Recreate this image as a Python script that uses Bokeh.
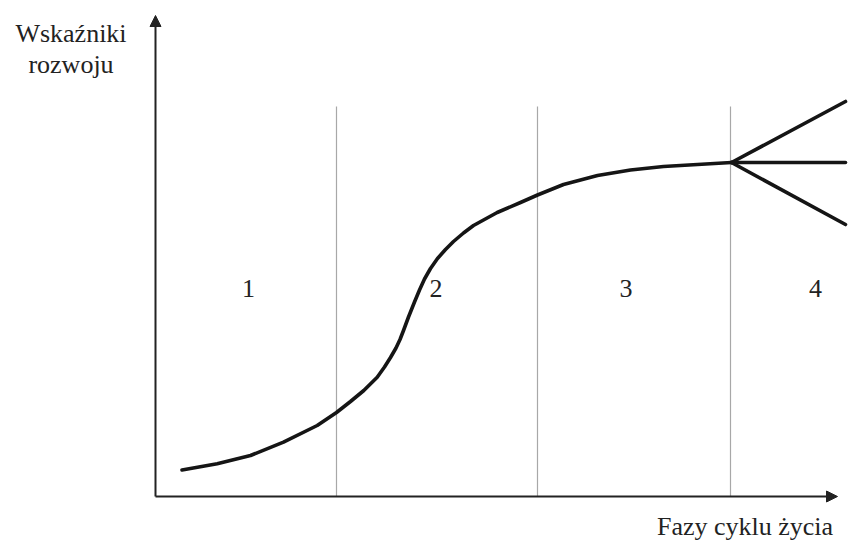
from bokeh.plotting import figure
from bokeh.models import Range1d, Arrow, NormalHead, ColumnDataSource
from bokeh.core.properties import value
from bokeh.embed import file_html
from bokeh.resources import INLINE

# ---- data ----
curve_x = [0.265, 0.617, 0.95, 1.28, 1.617, 1.81, 1.95, 2.083, 2.217, 2.29, 2.35, 2.405,
           2.445, 2.48, 2.53, 2.59, 2.64, 2.69, 2.75, 2.82, 2.90, 2.98, 3.08, 3.18,
           3.417, 3.65, 3.82, 4.08, 4.42, 4.75, 5.08, 5.42, 5.76]
curve_y = [0.265, 0.327, 0.41, 0.543, 0.71, 0.84, 0.95, 1.06, 1.193, 1.295, 1.39, 1.485,
           1.57, 1.66, 1.795, 1.945, 2.065, 2.175, 2.28, 2.38, 2.47, 2.55, 2.635, 2.71,
           2.84, 2.94, 3.015, 3.12, 3.21, 3.265, 3.30, 3.32, 3.34]

branch_start = (5.76, 3.34)
branch_end_x = [6.90, 6.90, 6.90]
branch_end_y = [3.95, 3.34, 2.72]

phase_bounds = [1.81, 3.82, 5.75]
phase_top = 3.90
phase_labels = ["1", "2", "3", "4"]
phase_label_x = [0.93, 2.805, 4.705, 6.60]
phase_label_y = 2.085

x_axis_end = 6.82
y_axis_end = 4.81
y_title = ["Wskaźniki", "rozwoju"]
x_title = "Fazy cyklu życia"

# ---- figure ----
p = figure(width=855, height=540, output_backend="svg", toolbar_location=None,
           x_axis_type=None, y_axis_type=None, min_border=0,
           x_range=Range1d(-1.55, 7.00), y_range=Range1d(-0.44, 4.96))
p.grid.visible = False
p.outline_line_color = None
p.background_fill_color = "white"
p.border_fill_color = "white"

# phase separators
p.segment(x0=phase_bounds, y0=[0] * len(phase_bounds), x1=phase_bounds,
          y1=[phase_top] * len(phase_bounds), line_color="#a8a8a8", line_width=1.2)

# main curve
p.line(curve_x, curve_y, line_color="#151515", line_width=3.6, line_join="round",
       line_cap="round")

# branches
p.segment(x0=[branch_start[0]] * 3, y0=[branch_start[1]] * 3, x1=branch_end_x,
          y1=branch_end_y, line_color="#151515", line_width=3.6, line_cap="round")

# axes with arrows
p.add_layout(Arrow(end=NormalHead(size=11, fill_color="#222", line_color="#222", line_width=1),
                   x_start=0, y_start=0, x_end=0, y_end=y_axis_end,
                   line_color="#222", line_width=2))
p.add_layout(Arrow(end=NormalHead(size=11, fill_color="#222", line_color="#222", line_width=1),
                   x_start=0, y_start=0, x_end=x_axis_end, y_end=0,
                   line_color="#222", line_width=2))

font = value("Liberation Serif")
src = ColumnDataSource(dict(x=phase_label_x, y=[phase_label_y] * 4, t=phase_labels))
p.text(x="x", y="y", text="t", source=src, text_font=font, text_font_size="26px",
       text_align="center", text_baseline="middle", text_color="#222")

p.text(x=[-0.845, -0.845], y=[4.627, 4.324], text=y_title, text_font=font,
       text_font_size="26px", text_align="center", text_baseline="middle",
       text_color="#222")
p.text(x=[5.895], y=[-0.296], text=[x_title], text_font=font,
       text_font_size="26px", text_align="center", text_baseline="middle",
       text_color="#222")

open("out.html", "w").write(file_html(p, INLINE))
